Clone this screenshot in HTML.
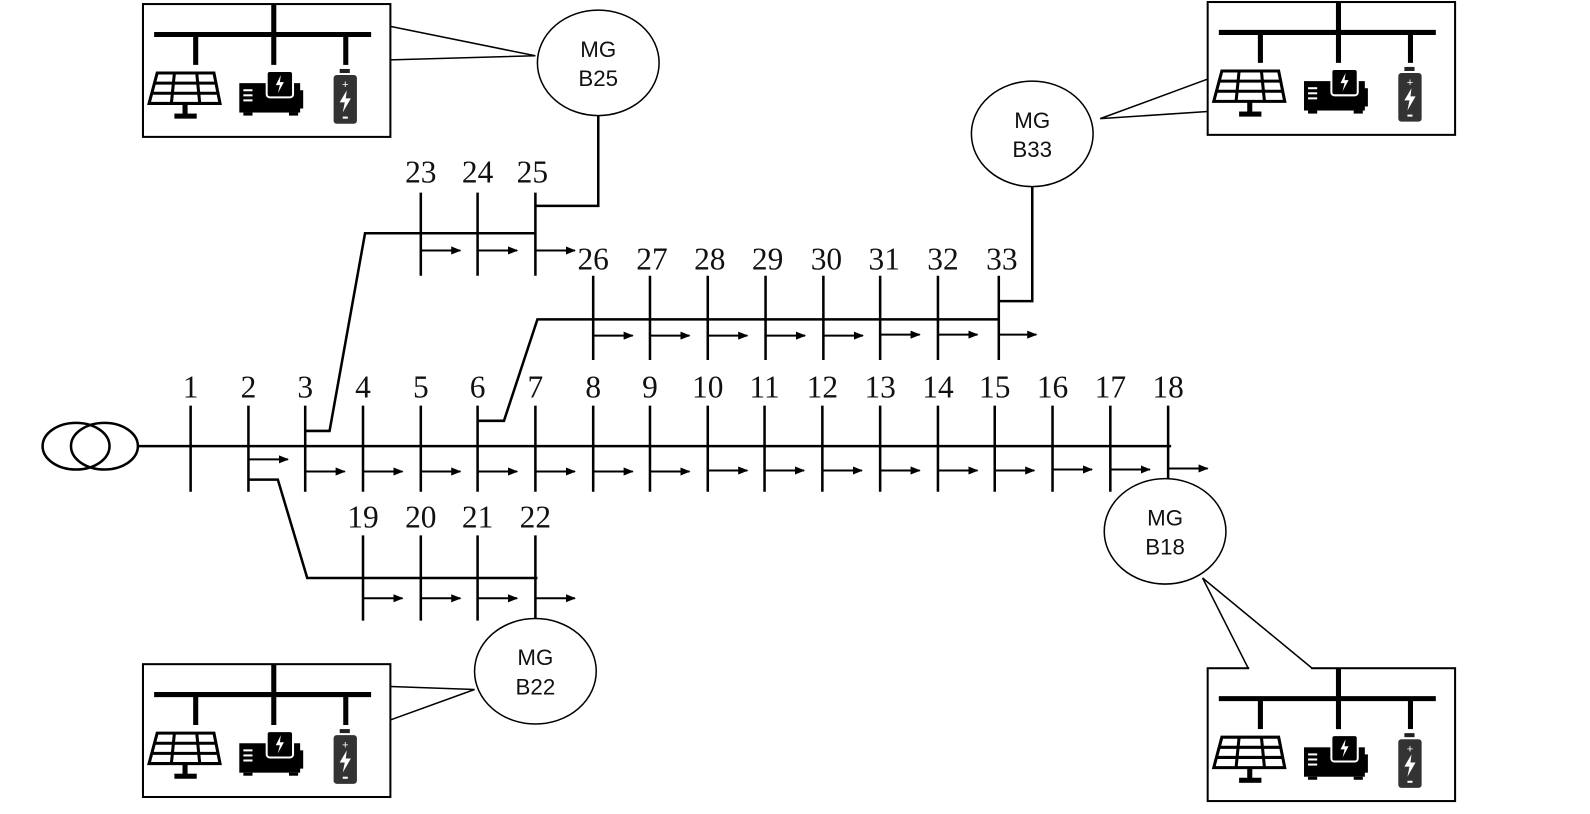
<!DOCTYPE html>
<html><head><meta charset="utf-8"><style>
html,body{margin:0;padding:0;background:#fff;}
svg{display:block;}
.n{font-family:"Liberation Serif",serif;font-size:31px;fill:#111;text-anchor:middle;}
.m{font-family:"Liberation Sans",sans-serif;font-size:22px;fill:#111;text-anchor:middle;}
</style></head><body>
<svg width="1590" height="814" viewBox="0 0 1590 814" xmlns="http://www.w3.org/2000/svg">
<defs>
<marker id="a" markerWidth="10" markerHeight="8" refX="9" refY="4" orient="auto" markerUnits="userSpaceOnUse"><path d="M0,0 L10,4 L0,8z" fill="#000"/></marker>
<g id="box">
<rect x="0" y="0" width="244" height="131" fill="#fff" stroke="#000" stroke-width="2"/>
<line x1="11" y1="30" x2="225" y2="30" stroke="#000" stroke-width="5"/>
<line x1="129" y1="0" x2="129" y2="60" stroke="#000" stroke-width="5"/>
<line x1="52" y1="30" x2="52" y2="60" stroke="#000" stroke-width="5"/>
<line x1="200" y1="30" x2="200" y2="60" stroke="#000" stroke-width="5"/>
<g fill="none" stroke="#000" stroke-width="3">
<path d="M14,68 L70,68 L76,98 L6,98 Z"/>
<line x1="11" y1="78" x2="73" y2="78"/><line x1="9" y1="88" x2="74" y2="88"/>
<line x1="31" y1="68" x2="28" y2="98"/><line x1="53" y1="68" x2="56" y2="98"/>
</g>
<rect x="39" y="98" width="5" height="12" fill="#000"/>
<rect x="31" y="108" width="22" height="5" fill="#000"/>
<rect x="95" y="78" width="60" height="29" fill="#000"/>
<rect x="154" y="85" width="4" height="18" fill="#000"/>
<rect x="122" y="66" width="26" height="26" rx="3" fill="#000" stroke="#fff" stroke-width="2"/>
<path d="M136,70 L131,80 L135,80 L133,88 L139,77 L135,77z" fill="#fff"/>
<rect x="99" y="84" width="9" height="2" fill="#fff"/><rect x="99" y="89" width="9" height="2" fill="#fff"/><rect x="99" y="94" width="9" height="2" fill="#fff"/>
<rect x="99" y="107" width="9" height="3" fill="#000"/><rect x="144" y="107" width="9" height="3" fill="#000"/>
<rect x="194" y="64" width="10" height="4" fill="#222"/>
<rect x="188" y="70" width="23" height="48" rx="3" fill="#333"/>
<text x="199.5" y="83" fill="#fff" font-size="11" font-family="Liberation Sans" text-anchor="middle">+</text>
<path d="M201,85 L194,97 L199,97 L197,107 L205,93 L200,93z" fill="#fff"/>
<rect x="197" y="111" width="5" height="2" fill="#fff"/>
</g>
</defs>
<g transform="scale(1.014)">
<g stroke="#000" stroke-width="2.5" fill="none">
<ellipse cx="75" cy="440" rx="33" ry="23"/>
<ellipse cx="103" cy="440" rx="33" ry="23"/>
<line x1="136" y1="440" x2="1155" y2="440"/>
<line x1="188" y1="400" x2="188" y2="485"/>
<line x1="245" y1="400" x2="245" y2="485"/>
<line x1="301" y1="400" x2="301" y2="485"/>
<line x1="358" y1="400" x2="358" y2="485"/>
<line x1="415" y1="400" x2="415" y2="485"/>
<line x1="471" y1="400" x2="471" y2="485"/>
<line x1="528" y1="400" x2="528" y2="485"/>
<line x1="585" y1="400" x2="585" y2="485"/>
<line x1="641" y1="400" x2="641" y2="485"/>
<line x1="698" y1="400" x2="698" y2="485"/>
<line x1="754" y1="400" x2="754" y2="485"/>
<line x1="811" y1="400" x2="811" y2="485"/>
<line x1="868" y1="400" x2="868" y2="485"/>
<line x1="925" y1="400" x2="925" y2="485"/>
<line x1="981" y1="400" x2="981" y2="485"/>
<line x1="1038" y1="400" x2="1038" y2="485"/>
<line x1="1095" y1="400" x2="1095" y2="485"/>
<line x1="1152" y1="400" x2="1152" y2="472"/>
<polyline points="245,473 274,473 303,570 530,570"/>
<line x1="358" y1="528" x2="358" y2="612"/>
<line x1="415" y1="528" x2="415" y2="612"/>
<line x1="471" y1="528" x2="471" y2="612"/>
<line x1="528" y1="528" x2="528" y2="612"/>
<polyline points="301,425 325,425 360,230 528,230"/>
<line x1="415" y1="190" x2="415" y2="272"/>
<line x1="471" y1="190" x2="471" y2="272"/>
<line x1="528" y1="190" x2="528" y2="272"/>
<polyline points="471,415 497,415 530,315 985,315"/>
<line x1="585" y1="272" x2="585" y2="355"/>
<line x1="641" y1="272" x2="641" y2="355"/>
<line x1="698" y1="272" x2="698" y2="355"/>
<line x1="755" y1="272" x2="755" y2="355"/>
<line x1="812" y1="272" x2="812" y2="355"/>
<line x1="868" y1="272" x2="868" y2="355"/>
<line x1="925" y1="272" x2="925" y2="355"/>
<line x1="985" y1="272" x2="985" y2="355"/>
<polyline points="590,114 590,203 528,203"/>
<polyline points="1018,184 1018,297 985,297"/>
</g>
<g stroke="#000" stroke-width="2" marker-end="url(#a)">
<line x1="245" y1="453" x2="284" y2="453"/>
<line x1="301" y1="465" x2="340" y2="465"/>
<line x1="358" y1="465" x2="397" y2="465"/>
<line x1="415" y1="465" x2="454" y2="465"/>
<line x1="471" y1="465" x2="510" y2="465"/>
<line x1="528" y1="465" x2="567" y2="465"/>
<line x1="585" y1="465" x2="624" y2="465"/>
<line x1="641" y1="465" x2="680" y2="465"/>
<line x1="698" y1="464" x2="737" y2="464"/>
<line x1="754" y1="464" x2="793" y2="464"/>
<line x1="811" y1="464" x2="850" y2="464"/>
<line x1="868" y1="464" x2="907" y2="464"/>
<line x1="925" y1="464" x2="964" y2="464"/>
<line x1="981" y1="464" x2="1020" y2="464"/>
<line x1="1038" y1="463" x2="1077" y2="463"/>
<line x1="1095" y1="463" x2="1134" y2="463"/>
<line x1="1152" y1="462" x2="1191" y2="462"/>
<line x1="358" y1="590" x2="397" y2="590"/>
<line x1="415" y1="590" x2="454" y2="590"/>
<line x1="471" y1="590" x2="510" y2="590"/>
<line x1="528" y1="590" x2="567" y2="590"/>
<line x1="415" y1="247" x2="454" y2="247"/>
<line x1="471" y1="247" x2="510" y2="247"/>
<line x1="528" y1="247" x2="567" y2="247"/>
<line x1="585" y1="331" x2="624" y2="331"/>
<line x1="641" y1="331" x2="680" y2="331"/>
<line x1="698" y1="331" x2="737" y2="331"/>
<line x1="755" y1="331" x2="794" y2="331"/>
<line x1="812" y1="331" x2="851" y2="331"/>
<line x1="868" y1="330" x2="907" y2="330"/>
<line x1="925" y1="330" x2="964" y2="330"/>
<line x1="985" y1="330" x2="1022" y2="330"/>
</g>
<g>
<text x="188" y="392" class="n">1</text><text x="245" y="392" class="n">2</text><text x="301" y="392" class="n">3</text>
<text x="358" y="392" class="n">4</text><text x="415" y="392" class="n">5</text><text x="471" y="392" class="n">6</text>
<text x="528" y="392" class="n">7</text><text x="585" y="392" class="n">8</text><text x="641" y="392" class="n">9</text>
<text x="698" y="392" class="n">10</text><text x="754" y="392" class="n">11</text><text x="811" y="392" class="n">12</text>
<text x="868" y="392" class="n">13</text><text x="925" y="392" class="n">14</text><text x="981" y="392" class="n">15</text>
<text x="1038" y="392" class="n">16</text><text x="1095" y="392" class="n">17</text><text x="1152" y="392" class="n">18</text>
<text x="358" y="520" class="n">19</text><text x="415" y="520" class="n">20</text><text x="471" y="520" class="n">21</text><text x="528" y="520" class="n">22</text>
<text x="415" y="180" class="n">23</text><text x="471" y="180" class="n">24</text><text x="525" y="180" class="n">25</text>
<text x="585" y="266" class="n">26</text><text x="643" y="266" class="n">27</text><text x="700" y="266" class="n">28</text>
<text x="757" y="266" class="n">29</text><text x="815" y="266" class="n">30</text><text x="872" y="266" class="n">31</text>
<text x="930" y="266" class="n">32</text><text x="988" y="266" class="n">33</text>
</g>
<g stroke="#000" stroke-width="1.5" fill="#fff">
<ellipse cx="590" cy="62" rx="60" ry="52"/>
<ellipse cx="1018" cy="132" rx="60" ry="52"/>
<ellipse cx="1149" cy="524" rx="60" ry="52"/>
<ellipse cx="528" cy="662" rx="60" ry="52"/>
</g>
<text x="590" y="56" class="m">MG</text><text x="590" y="85" class="m">B25</text>
<text x="1018" y="126" class="m">MG</text><text x="1018" y="155" class="m">B33</text>
<text x="1149" y="518" class="m">MG</text><text x="1149" y="547" class="m">B18</text>
<text x="528" y="656" class="m">MG</text><text x="528" y="685" class="m">B22</text>
<use href="#box" x="141" y="4"/>
<use href="#box" x="1191" y="2"/>
<use href="#box" x="141" y="655"/>
<use href="#box" x="1191" y="659"/>
<g stroke="#000" stroke-width="1.5" fill="none">
<polyline points="385,26 528,55 385,59"/>
<polyline points="1191,78 1085,117 1191,110"/>
<polyline points="385,677 468,680 385,710"/>
<line x1="1232" y1="659" x2="1293" y2="659" stroke="#fff" stroke-width="4"/>
<polyline points="1231,659 1186,570 1294,659"/>
</g>
</g>
</svg>
</body></html>
